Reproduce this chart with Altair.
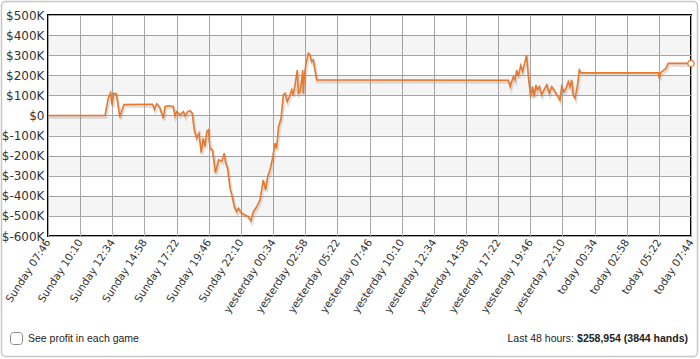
import json
import altair as alt
import pandas as pd

# ---- data -------------------------------------------------------------
tick_labels = [
    "Sunday 07:46", "Sunday 10:10", "Sunday 12:34", "Sunday 14:58", "Sunday 17:22",
    "Sunday 19:46", "Sunday 22:10", "yesterday 00:34", "yesterday 02:58",
    "yesterday 05:22", "yesterday 07:46", "yesterday 10:10", "yesterday 12:34",
    "yesterday 14:58", "yesterday 17:22", "yesterday 19:46", "yesterday 22:10",
    "today 00:34", "today 02:58", "today 05:22", "today 07:44",
]
tick_hours = [0, 2.4, 4.8, 7.2, 9.6, 12, 14.4, 16.8, 19.2, 21.6, 24, 26.4, 28.8,
              31.2, 33.6, 36, 38.4, 40.8, 43.2, 45.6, 48]
y_ticks = [-600, -500, -400, -300, -200, -100, 0, 100, 200, 300, 400, 500]

hours = [0, 4.26, 4.50, 4.67, 4.79, 4.91, 5.10, 5.17, 5.37, 5.52, 5.67, 7.80, 7.95,
         8.11, 8.25, 8.36, 8.61, 8.73, 8.92, 9.35, 9.48, 9.61, 9.85, 10.10, 10.23,
         10.43, 10.60, 10.77, 10.92, 11.10, 11.27, 11.44, 11.59, 11.72, 11.85, 11.97,
         12.09, 12.28, 12.50, 12.74, 12.97, 13.16, 13.27, 13.41, 13.59, 13.76, 13.91,
         14.09, 14.21, 14.46, 14.71, 14.95, 15.15, 15.33, 15.58, 15.83, 16.07, 16.25,
         16.40, 16.57, 16.74, 16.95, 17.06, 17.21, 17.39, 17.57, 17.69, 17.86, 18.07,
         18.19, 18.31, 18.44, 18.61, 18.69, 18.81, 18.94, 19.01, 19.06, 19.13, 19.26,
         19.43, 19.56, 19.68, 19.80, 20.06, 34.36, 34.51, 34.61, 34.74, 34.86, 34.99,
         35.11, 35.29, 35.44, 35.61, 35.73, 35.85, 36.03, 36.18, 36.28, 36.43, 36.53,
         36.68, 36.85, 37.03, 37.23, 37.42, 37.60, 37.77, 37.92, 38.09, 38.22, 38.35,
         38.52, 38.67, 38.84, 38.97, 39.09, 39.21, 39.34, 39.51, 39.66, 39.79, 45.56,
         45.63, 45.74, 45.93, 46.13, 46.31, 48.0]
profit_k = [0, 0, 87, 112, 50, 110, 108, 77, -9, 27, 54, 56, 30,
            58, 50, 36, -14, 44, 48, 45, -3, 19, 2, 19, -3,
            19, 24, 11, -72, -113, -89, -185, -113, -155, -80, -72,
            -163, -172, -285, -221, -228, -188, -238, -263, -362, -404, -454,
            -479, -462, -487, -495, -503, -525, -479, -454, -420, -321, -371,
            -304, -271, -221, -138, -165, -56, -18, 102, 110, 69, 102,
            127, 102, 152, 226, 110, 118, 177, 226, 110, 193, 260,
            309, 301, 268, 276, 177, 175, 143, 168, 193, 177, 226,
            193, 248, 218, 268, 301, 201, 94, 143, 94, 152, 127,
            143, 102, 127, 152, 110, 143, 127, 110, 94, 77, 143,
            118, 135, 168, 143, 177, 102, 86, 143, 226, 212, 212,
            185, 213, 223, 235, 259, 259]

band_lo = [300, 100, -100, -300, -500]
band_hi = [400, 200, 0, -200, -400]

checkbox_label = "See profit in each game"
summary_label = "Last 48 hours:"
summary_value = "$258,954 (3844 hands)"

# ---- chart ------------------------------------------------------------
df = pd.DataFrame({"h": hours, "p": profit_k})
bands = pd.DataFrame({"lo": band_lo, "hi": band_hi, "x0": 0, "x1": 48})
last = df.tail(1)

FONT = "DejaVu Sans"
TXT_FONT = "Liberation Sans"
label_expr = json.dumps(tick_labels) + "[round(datum.value / 2.4)]"

xs = alt.Scale(domain=[0, 48], nice=False, zero=False)
ys = alt.Scale(domain=[-600, 500], nice=False)

x_axis = alt.Axis(values=tick_hours, labelExpr=label_expr, labelAngle=-57,
                  labelAlign="right", labelBaseline="middle", labelPadding=4,
                  ticks=False, domain=False, grid=True, gridColor="#a8a8a8",
                  gridWidth=1, labelFont=FONT, labelFontSize=10.5,
                  labelColor="#333", title=None, labelOverlap=False,
                  labelBound=False, labelFlush=False)
y_axis = alt.Axis(values=y_ticks,
                  labelExpr="datum.value == 0 ? '$0' : '$' + datum.value + 'K'",
                  ticks=False, domain=False, grid=True, gridColor="#a8a8a8",
                  gridWidth=1, labelFont=FONT, labelFontSize=12,
                  labelColor="#333", labelPadding=4, title=None,
                  labelOverlap=False, labelBound=False, labelFlush=False)

X_band = alt.X("x0:Q", scale=xs, axis=x_axis)
Y_band = alt.Y("lo:Q", scale=ys, axis=y_axis)
X_line = alt.X("h:Q", scale=xs, axis=x_axis)
Y_line = alt.Y("p:Q", scale=ys, axis=y_axis)

band_layer = alt.Chart(bands).mark_rect(fill="#000", opacity=0.04).encode(
    x=X_band, x2="x1:Q", y=Y_band, y2="hi:Q",
)

shadow = alt.Chart(df).mark_line(color="#888", opacity=0.25, strokeWidth=3,
                                 xOffset=1, yOffset=2).encode(x=X_line, y=Y_line)

line = alt.Chart(df).mark_line(color="#e8782c", strokeWidth=1.6,
                               strokeJoin="miter").encode(x=X_line, y=Y_line)

end_pt = alt.Chart(last).mark_point(shape="circle", size=40, filled=True,
                                    fill="white", stroke="#e8782c",
                                    strokeWidth=1.3, opacity=1, clip=False).encode(
    x=X_line, y=Y_line)

panel = alt.Chart(pd.DataFrame({"a": [0]})).mark_rect(
    fill=None, stroke="#c8c8c8", strokeWidth=1.5, cornerRadius=4).encode(
    x=alt.value(-46.5), x2=alt.value(649.5), y=alt.value(-13.5), y2=alt.value(341.5))

checkbox = alt.Chart(pd.DataFrame({"a": [0]})).mark_rect(
    fill="white", stroke="#8a8a8a", strokeWidth=1, cornerRadius=3).encode(
    x=alt.value(-37.5), x2=alt.value(-25.5), y=alt.value(317.5), y2=alt.value(329.5))

cb_text = alt.Chart(pd.DataFrame({"t": [checkbox_label]})).mark_text(
    align="left", baseline="middle", font=TXT_FONT, fontSize=10.5,
    color="#222").encode(x=alt.value(-20), y=alt.value(324), text="t:N")

sum_text = alt.Chart(pd.DataFrame({"t": [summary_label]})).mark_text(
    align="right", baseline="middle", font=TXT_FONT, fontSize=10.5,
    color="#222").encode(x=alt.value(526), y=alt.value(324), text="t:N")

sum_val = alt.Chart(pd.DataFrame({"t": [summary_value]})).mark_text(
    align="right", baseline="middle", font=TXT_FONT, fontSize=10.5,
    fontWeight="bold", color="#222").encode(
    x=alt.value(640), y=alt.value(324), text="t:N")

chart = alt.layer(band_layer, shadow, line, end_pt, panel, checkbox, cb_text,
                  sum_text, sum_val).properties(
    width=643, height=221,
    autosize=alt.AutoSizeParams(type="none"),
    padding={"left": 48, "top": 15, "right": 9, "bottom": 123},
    background="white",
).configure_view(stroke="#000", strokeWidth=2)

chart.save("out.html", embed_options={"renderer": "svg", "actions": False})
